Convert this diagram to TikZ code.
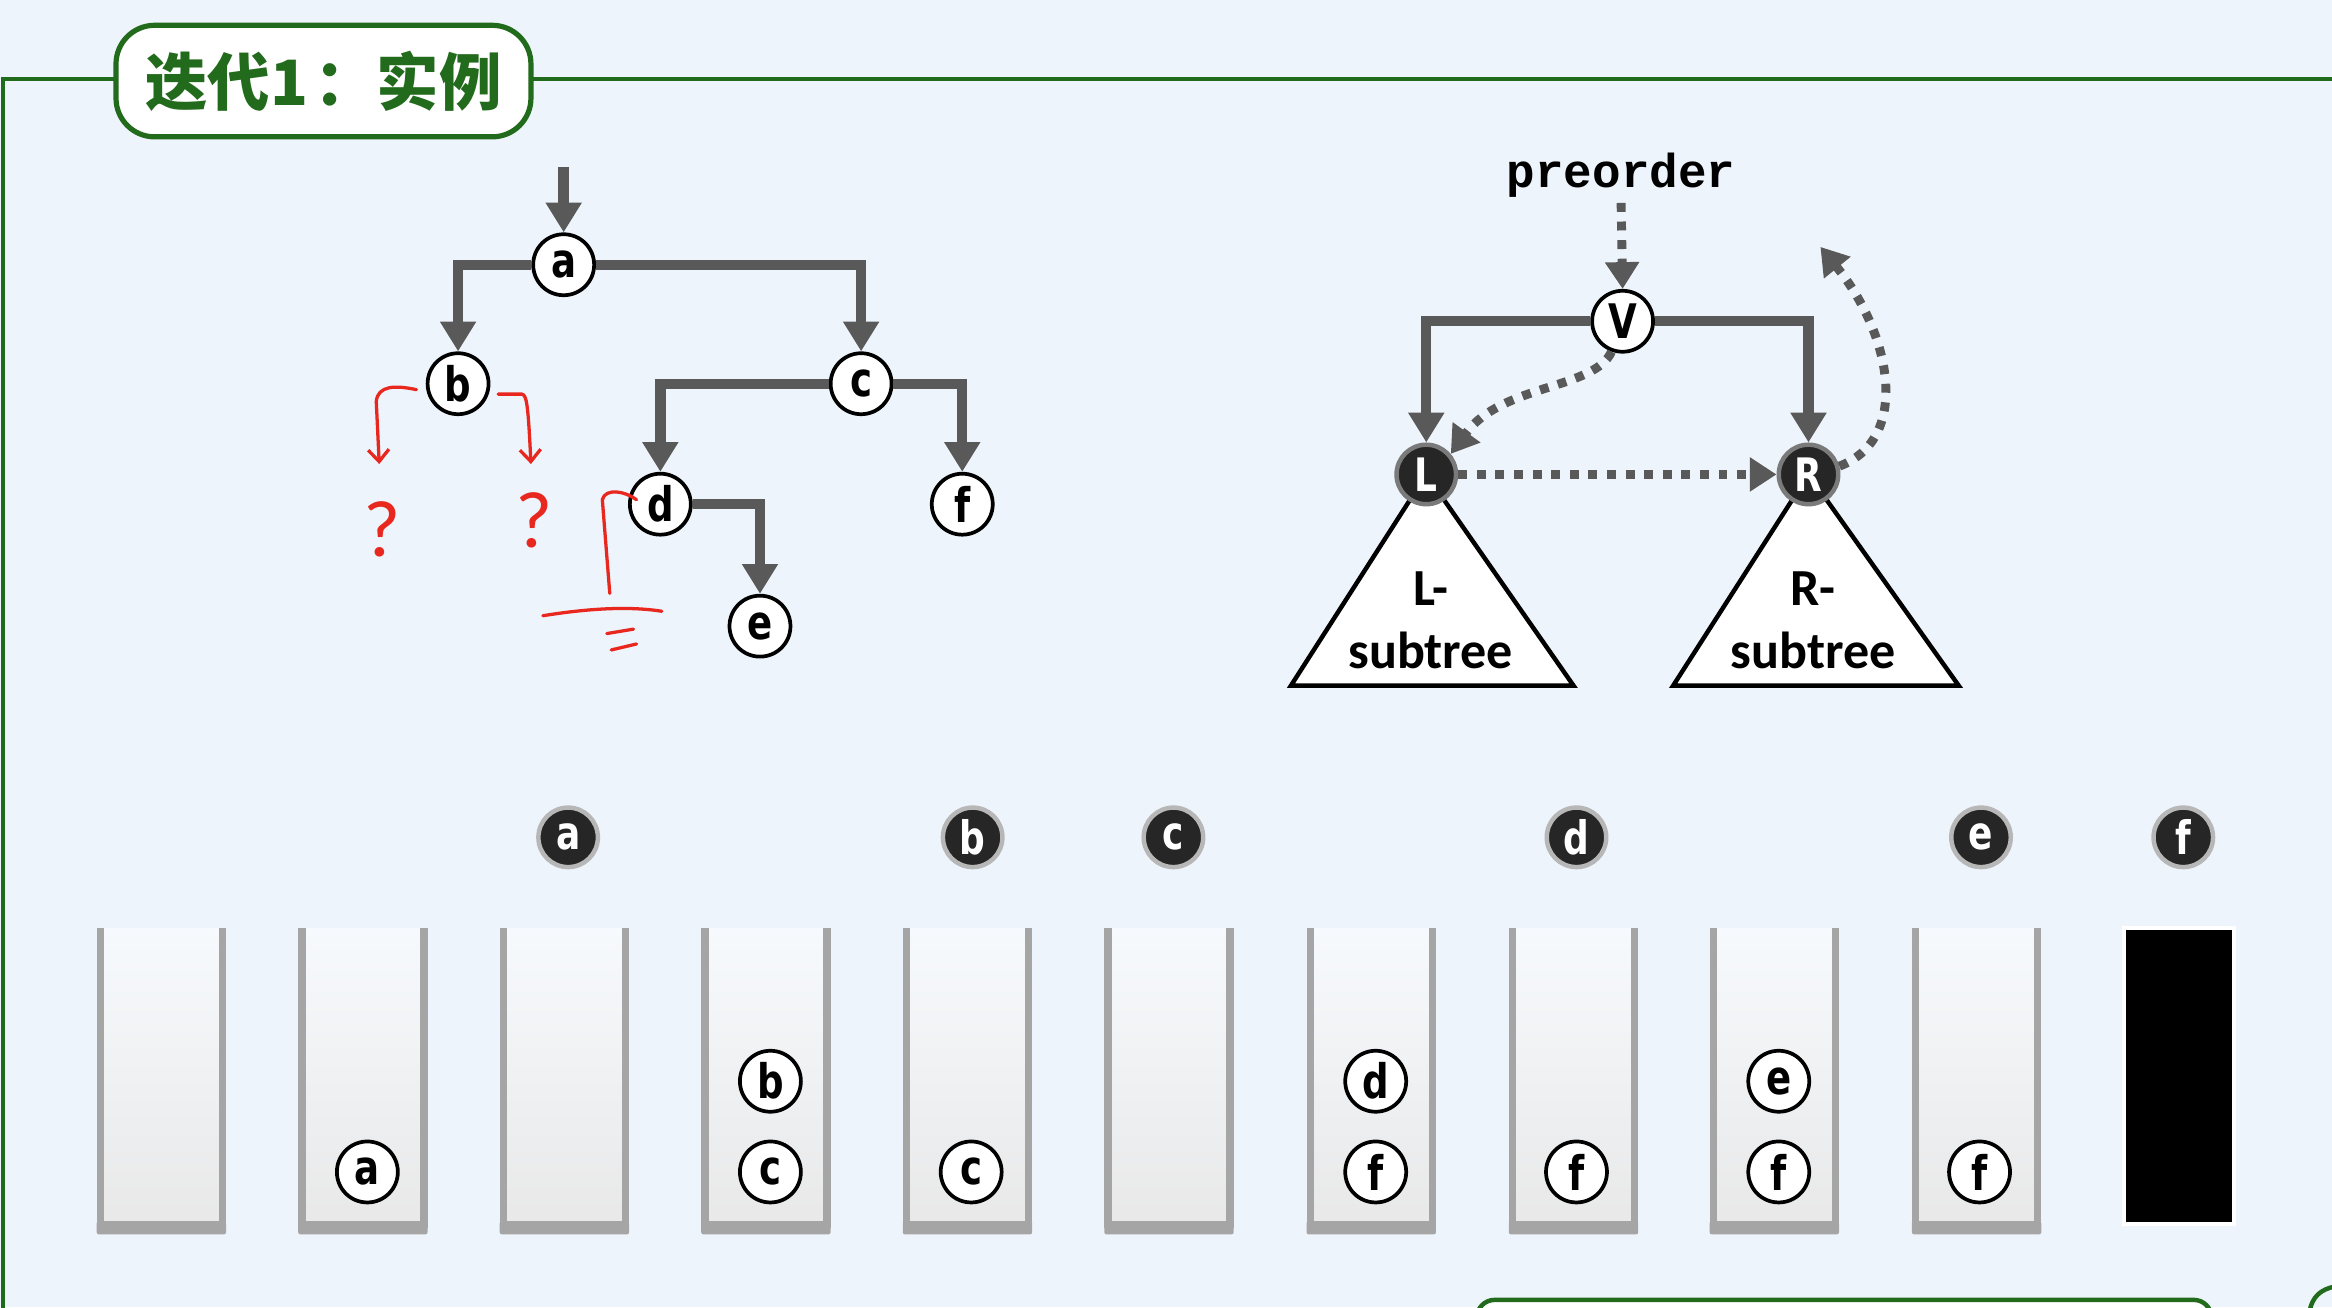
\documentclass[tikz,border=0pt]{standalone}
\usepackage{fontspec}
\usetikzlibrary{arrows.meta,calc}
\setmainfont{Carlito}
\newfontfamily\cjkfont{Noto Sans CJK SC}
\newfontfamily\codefont{Liberation Mono}
\newfontfamily\nodefont{DejaVu Sans}[FakeStretch=0.78]
\definecolor{bgc}{HTML}{EEF4FB}
\definecolor{fgreen}{HTML}{236B1C}
\definecolor{edgec}{HTML}{595959}
\definecolor{redc}{HTML}{E8271E}
\definecolor{stackc}{HTML}{A5A5A5}
\definecolor{darkn}{HTML}{262626}
\definecolor{ringc}{HTML}{8A8A8A}
\tikzset{
  tnode/.style={circle, draw=black, line width=2.5pt, fill=white, minimum size=41pt, inner sep=0pt, font=\nodefont\bfseries\fontsize{32}{32}\selectfont},
  dnode/.style={circle, draw=ringc, line width=3pt, fill=darkn, minimum size=40pt, inner sep=0pt, text=white, font=\nodefont\bfseries\fontsize{31}{31}\selectfont},
  pnode/.style={dnode, draw=stackc!80},
  edge/.style={draw=edgec, line width=7pt, -{Triangle[length=20pt,width=23pt]}},
  dotarrow/.style={draw=edgec, line width=6pt, dash pattern=on 6pt off 6.5pt, -{Triangle[length=18pt,width=22pt]}},
  redline/.style={draw=redc, line width=2.2pt, line cap=round, line join=round},
  redtip/.style={redline, -{Straight Barb[length=8pt,width=14pt]}},
  qmark/.style={text=redc, font=\fontsize{54}{54}\selectfont},
  subtri/.style={fill=white, draw=black, line width=3pt, line join=miter},
  trilabel/.style={align=center, font=\fontsize{35}{42}\selectfont\bfseries},
  stackline/.style={draw=stackc, line width=5pt},
}
\begin{document}
\begin{tikzpicture}[x=1pt,y=-1pt]
\useasboundingbox (0,0) rectangle (1568,879);
\fill[bgc] (0,0) rectangle (1568,879);

% frame
\draw[fgreen, line width=3pt] (80,53) -- (2,53) -- (2,880);
\draw[fgreen, line width=3pt] (355,53) -- (1570,53);
\node[draw=fgreen, line width=3.5pt, fill=white, rounded corners=26pt, minimum width=279pt, minimum height=75pt, inner sep=0pt,
      text=fgreen, font=\cjkfont\bfseries\fontsize{42}{42}\selectfont] (title) at (217.5,54.5) {迭代1\hspace{4pt}：实例};
% partial boxes at the bottom edge
\draw[fgreen, line width=3pt, fill=white, rounded corners=12pt] (993,874) rectangle (1487,910);
\draw[fgreen, line width=3pt] (1553,881) .. controls (1555,872) and (1560,867) .. (1570,865);

% ---------- left tree ----------
\node[tnode] (a) at (379,178) {a};
\node[tnode] (b) at (308,258) {b};
\node[tnode] (c) at (579,258) {c};
\node[tnode] (d) at (444,339) {d};
\node[tnode] (f) at (647,339) {f};
\node[tnode] (e) at (511,421) {e};
\coordinate (entry) at (379,112);
\draw[edge] (entry) -- (a);
\draw[edge] (a.west) -| (b);
\draw[edge] (a.east) -| (c);
\draw[edge] (c.west) -| (d);
\draw[edge] (c.east) -| (f);
\draw[edge] (d.east) -| (e);

% red hand annotations
\draw[redtip] (280,262) .. controls (266,259) and (254,259) .. (253,270) -- (255,312);
\draw[redtip] (335,265) -- (351,265) .. controls (354,266) and (355,270) .. (357,312);
\node[qmark] (q1) at (257,356) {?};
\node[qmark] (q2) at (359,350) {?};
\draw[redline] (428,336) .. controls (420,330) and (407,328) .. (405,336) -- (410,399);
\draw[redline] (365,414) .. controls (390,410) and (420,407) .. (445,411);
\draw[redline] (408,426) -- (426,423);
\draw[redline] (411,437) -- (428,433);

% ---------- right diagram ----------
\filldraw[subtri] (959,319) -- (1058,461) -- (868,461) -- cycle;
\filldraw[subtri] (1216,319) -- (1317,461) -- (1125,461) -- cycle;
\node[trilabel] (lt) at (962,417) {L-\\subtree};
\node[trilabel] (rt) at (1219,417) {R-\\subtree};
\node[tnode] (V) at (1091,216) {V};
\node[dnode, draw=edgec!80] (L) at (959,319) {L};
\node[dnode, draw=edgec!80] (R) at (1216,319) {R};
\node[font=\codefont\bfseries\fontsize{32}{32}\selectfont] (pre) at (1090,118) {preorder};
\draw[edge] (V.west) -| (L);
\draw[edge] (V.east) -| (R);
\draw[dotarrow] (pre.south) -- (V.north);
\draw[dotarrow] (V.250) .. controls (1072,262) and (1010,258) .. (L.40);
\draw[dotarrow] (L.east) -- (R.west);
\coordinate (up) at (1224,166);
\draw[dotarrow] (R.15) .. controls (1285,295) and (1272,225) .. (up);

% ---------- stacks ----------
\foreach \i/\x in {1/108.5,2/244,3/379.5,4/515,5/650.5,6/786,7/922,8/1058,9/1193,10/1329}{
  \shade[top color=white!50!bgc, bottom color=black!9] (\x-41,624) rectangle (\x+41,826);
  \draw[stackline] (\x-41,624) -- (\x-41,826);
  \draw[stackline] (\x+41,624) -- (\x+41,826);
  \fill[stackc, rounded corners=1.5pt] (\x-43.5,821) rectangle (\x+43.5,830);
  \coordinate (s\i) at (\x,624);
}
\filldraw[fill=black, draw=white, line width=3pt] (1428,624) rectangle (1502,823);
\coordinate (s11) at (1465,624);

% popped nodes
\node[pnode] (pa) at (382,563) {a};
\node[pnode] (pb) at (654,563) {b};
\node[pnode] (pc) at (789,563) {c};
\node[pnode] (pd) at (1060,563) {d};
\node[pnode] (pe) at (1332,563) {e};
\node[pnode] (pf) at (1468,563) {f};

% stack contents
\node[tnode] (s2a) at (247,788) {a};
\node[tnode] (s4b) at (518,727) {b};
\node[tnode] (s4c) at (518,788) {c};
\node[tnode] (s5c) at (653,788) {c};
\node[tnode] (s7d) at (925,727) {d};
\node[tnode] (s7f) at (925,788) {f};
\node[tnode] (s8f) at (1060,788) {f};
\node[tnode] (s9e) at (1196,727) {e};
\node[tnode] (s9f) at (1196,788) {f};
\node[tnode] (s10f) at (1331,788) {f};
\end{tikzpicture}
\end{document}
